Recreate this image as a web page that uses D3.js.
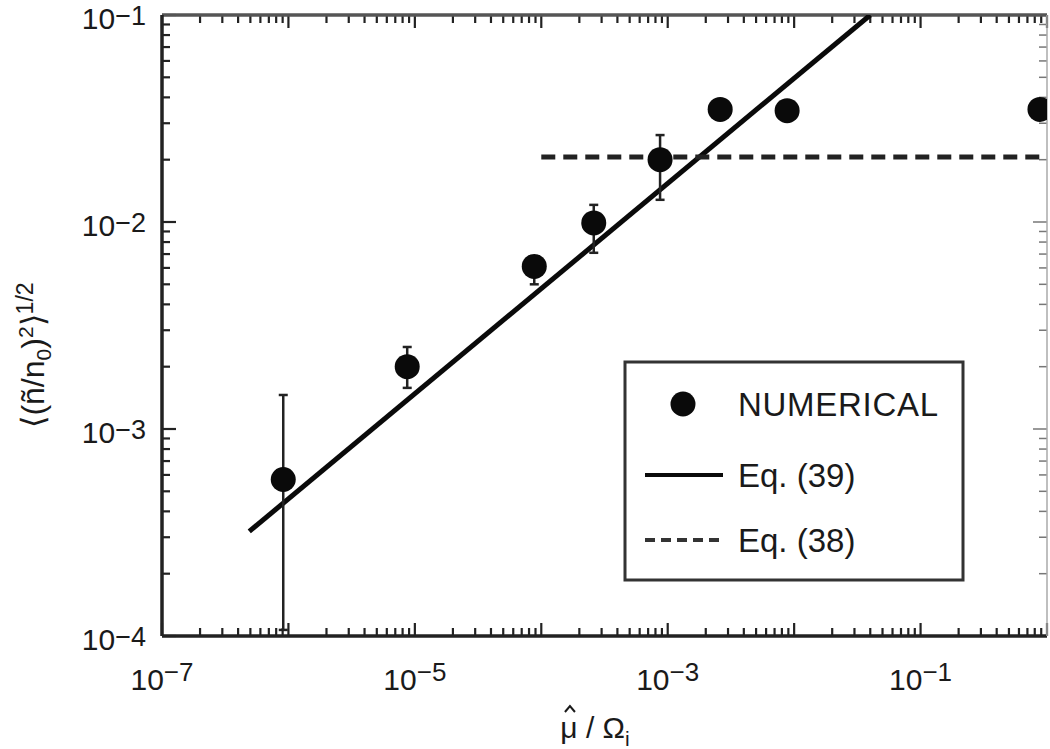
<!DOCTYPE html>
<html>
<head>
<meta charset="utf-8">
<script src="https://cdn.jsdelivr.net/npm/d3@7"></script>
<style>
  html, body { margin: 0; padding: 0; background: #fff; }
  svg { display: block; font-family: "Liberation Sans", Arial, Helvetica, sans-serif; }
</style>
</head>
<body>
<svg id="chart" width="1050" height="749"></svg>
<script>
// ---- data ----
const pointX = [9.1e-7, 8.7e-6, 8.8e-5, 2.6e-4, 8.7e-4, 2.6e-3, 8.8e-3, 0.88];
const pointY = [5.7e-4, 2.0e-3, 6.1e-3, 9.9e-3, 2.0e-2, 3.5e-2, 3.45e-2, 3.5e-2];
const errHi  = [1.46e-3, 2.49e-3, 6.8e-3, 1.21e-2, 2.63e-2, null, null, null];
const errLo  = [1.07e-4, 1.58e-3, 5.0e-3, 7.1e-3, 1.28e-2, null, null, null];
const eq39X = [4.9e-7, 0.04];
const eq39Y = [3.2e-4, 0.1];
const eq38X = [1e-4, 1];
const eq38Y = [2.06e-2, 2.06e-2];
const xTickExps = [-7, -5, -3, -1];
const yTickExps = [-4, -3, -2, -1];
const legendLabels = ["NUMERICAL", "Eq. (39)", "Eq. (38)"];

// ---- layout ----
const L = 162, R = 1047, T = 15, B = 636;
const svg = d3.select("#chart");
const x = d3.scaleLog().domain([1e-7, 1]).range([L, R]);
const y = d3.scaleLog().domain([1e-4, 1e-1]).range([B, T]);
const ink = "#0a0a0a";
const txt = "#1a1a1a";

svg.append("defs").append("clipPath").attr("id", "clip")
  .append("rect").attr("x", L).attr("y", T).attr("width", R - L).attr("height", B - T);

function logTicks(lo, hi) {
  const out = [];
  for (let e = lo; e < hi; e++) {
    for (let m = 1; m < 10; m++) out.push({ v: m * Math.pow(10, e), major: m === 1 });
  }
  out.push({ v: Math.pow(10, hi), major: true });
  return out;
}
const xt = logTicks(-7, 0);
const yt = logTicks(-4, -1);
const axG = svg.append("g").attr("stroke", "#222");
xt.forEach(t => {
  const px = x(t.v), len = t.major ? 13 : 8;
  axG.append("line").attr("x1", px).attr("x2", px).attr("y1", B).attr("y2", B - len).attr("stroke-width", 2.2);
  axG.append("line").attr("x1", px).attr("x2", px).attr("y1", T).attr("y2", T + len).attr("stroke-width", 2.2);
});
yt.forEach(t => {
  const py = y(t.v), len = t.major ? 14 : 8;
  axG.append("line").attr("y1", py).attr("y2", py).attr("x1", L).attr("x2", L + len).attr("stroke-width", 2.2);
  axG.append("line").attr("y1", py).attr("y2", py).attr("x1", R).attr("x2", R - len).attr("stroke-width", 1.5).attr("stroke", "#777");
});
axG.append("line").attr("x1", L).attr("x2", R).attr("y1", B).attr("y2", B).attr("stroke-width", 3.5);
axG.append("line").attr("x1", L).attr("x2", R).attr("y1", T).attr("y2", T).attr("stroke-width", 3.5).attr("stroke", "#555");
axG.append("line").attr("x1", L).attr("x2", L).attr("y1", T).attr("y2", B).attr("stroke-width", 3.5);
axG.append("line").attr("x1", R).attr("x2", R).attr("y1", T).attr("y2", B).attr("stroke-width", 1.5).attr("stroke", "#aaa");

// tick labels
xTickExps.forEach(e => {
  const t = svg.append("text").attr("x", x(Math.pow(10, e))).attr("y", 690)
    .attr("text-anchor", "middle").attr("fill", txt).attr("font-size", 30);
  t.append("tspan").text("10");
  t.append("tspan").attr("dy", -9).attr("font-size", 26).text("\u2212" + Math.abs(e));
});
yTickExps.forEach(e => {
  const t = svg.append("text").attr("x", 146).attr("y", y(Math.pow(10, e)) + 14)
    .attr("text-anchor", "end").attr("fill", txt).attr("font-size", 30);
  t.append("tspan").text("10");
  t.append("tspan").attr("dy", -4).attr("font-size", 27).text("\u2212" + Math.abs(e));
});

// x axis title; hat over mu drawn as a small path
const xTxt = svg.append("text").attr("x", 595).attr("y", 738).attr("text-anchor", "middle")
  .attr("fill", txt).attr("font-size", 30);
xTxt.append("tspan").text("\u03BC / \u03A9");
xTxt.append("tspan").attr("dy", 8).attr("font-size", 21).text("i");
const ext = xTxt.node().getExtentOfChar(0);
const hx = ext.x + ext.width / 2 + 1, hy = 738 - 26;
svg.append("path")
  .attr("d", `M${hx - 5},${hy} L${hx},${hy - 6} L${hx + 5},${hy}`)
  .attr("fill", "none").attr("stroke", txt).attr("stroke-width", 2);

// y axis title
const yt1 = svg.append("text").attr("transform", "translate(44,355) rotate(-90)")
  .attr("text-anchor", "middle").attr("fill", txt).attr("font-size", 32);
yt1.append("tspan").text("\u27E8(\u00F1/n");
yt1.append("tspan").attr("dy", 7).attr("font-size", 21).text("0");
yt1.append("tspan").attr("dy", -7).text(")");
yt1.append("tspan").attr("dy", -11).attr("font-size", 21).text("2");
yt1.append("tspan").attr("dy", 11).text("\u27E9");
yt1.append("tspan").attr("dy", -11).attr("font-size", 23).text("1/2");

// plot content
const plot = svg.append("g").attr("clip-path", "url(#clip)");
const line = d3.line().x(d => x(d[0])).y(d => y(d[1]));
plot.append("path").datum(eq39X.map((v, i) => [v, eq39Y[i]])).attr("d", line)
  .attr("fill", "none").attr("stroke", ink).attr("stroke-width", 5);
plot.append("path").datum(eq38X.map((v, i) => [v, eq38Y[i]])).attr("d", line)
  .attr("fill", "none").attr("stroke", "#222").attr("stroke-width", 5).attr("stroke-dasharray", "14,8");

pointX.forEach((v, i) => {
  if (errHi[i] == null) return;
  const px = x(v);
  plot.append("line").attr("x1", px).attr("x2", px).attr("y1", y(errHi[i])).attr("y2", y(errLo[i]))
    .attr("stroke", "#222").attr("stroke-width", 2.5);
  [errHi[i], errLo[i]].forEach(ev => {
    plot.append("line").attr("x1", px - 4.5).attr("x2", px + 4.5).attr("y1", y(ev)).attr("y2", y(ev))
      .attr("stroke", "#222").attr("stroke-width", 2.5);
  });
});
plot.selectAll("circle.pt").data(pointX.map((v, i) => [v, pointY[i]])).enter()
  .append("circle").attr("class", "pt").attr("cx", d => x(d[0])).attr("cy", d => y(d[1]))
  .attr("r", 12.5).attr("fill", ink);

// legend
const lg = svg.append("g");
lg.append("rect").attr("x", 625).attr("y", 362).attr("width", 338).attr("height", 218)
  .attr("fill", "#fff").attr("stroke", "#333").attr("stroke-width", 3);
lg.append("circle").attr("cx", 683).attr("cy", 404).attr("r", 12.5).attr("fill", ink);
lg.append("line").attr("x1", 645).attr("x2", 723).attr("y1", 475).attr("y2", 475)
  .attr("stroke", ink).attr("stroke-width", 4);
lg.append("line").attr("x1", 645).attr("x2", 723).attr("y1", 540).attr("y2", 540)
  .attr("stroke", "#333").attr("stroke-width", 4).attr("stroke-dasharray", "10,6");
[404, 475, 540].forEach((cy, i) => {
  lg.append("text").attr("x", 738).attr("y", cy + 12).attr("font-size", 33).attr("fill", txt)
    .attr("textLength", i === 0 ? 200 : null)
    .text(legendLabels[i]);
});
</script>
</body>
</html>
